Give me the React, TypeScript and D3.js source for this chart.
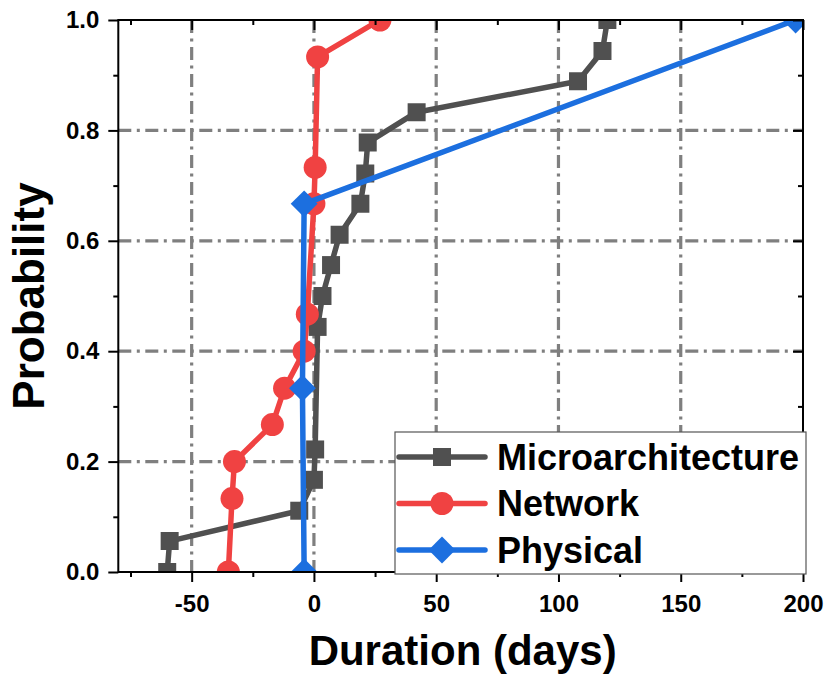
import React, { useEffect, useRef } from "react";
import {
  select,
  scaleLinear,
  line,
  axisBottom,
  axisLeft,
  axisTop,
  axisRight,
  format,
  symbol,
  symbolSquare,
} from "d3";

// CDF of durations
const microX = [-60, -59, -6, 0, 0.5, 1.5, 3.5, 7, 10.5, 19, 21, 22, 42, 108, 118, 120];
const microY = [0, 0.056, 0.111, 0.167, 0.222, 0.444, 0.5, 0.556, 0.611, 0.667, 0.722, 0.778, 0.833, 0.889, 0.944, 1.0];

const netX = [-35, -33.5, -32.5, -17, -12, -4, -2.7, 0, 0.5, 1.5, 27];
const netY = [0, 0.133, 0.2, 0.267, 0.333, 0.4, 0.467, 0.667, 0.733, 0.933, 1.0];

const physX = [-4, -4.7, -4, 197];
const physY = [0, 0.333, 0.667, 1.0];

const seriesNames = ["Microarchitecture", "Network", "Physical"];
const seriesColors = ["#505050", "#f04242", "#1c6fdf"];

const xTicks = [-50, 0, 50, 100, 150, 200];
const xMinorTicks = [-75, -25, 25, 75, 125, 175];
const yTicks = [0, 0.2, 0.4, 0.6, 0.8, 1.0];
const yMinorTicks = [0.1, 0.3, 0.5, 0.7, 0.9];
const xGrid = [-50, 0, 50, 100, 150];
const yGrid = [0.2, 0.4, 0.6, 0.8];

const FONT = "'Liberation Sans', Arial, Helvetica, sans-serif";

function drawMarker(g, kind, x, y, color) {
  if (kind === 0) {
    g.append("path")
      .attr("d", symbol(symbolSquare, 18 * 18)())
      .attr("transform", `translate(${x},${y})`)
      .attr("fill", color);
  } else if (kind === 1) {
    g.append("circle").attr("cx", x).attr("cy", y).attr("r", 11.5).attr("fill", color);
  } else {
    g.append("path")
      .attr("d", symbol(symbolSquare, 19 * 19)())
      .attr("transform", `translate(${x},${y}) rotate(45)`)
      .attr("fill", color);
  }
}

function CdfChart() {
  const svgRef = useRef();

  useEffect(() => {
    const svg = select(svgRef.current);
    svg.selectAll("*").remove();

    const left = 118.3;
    const right = 803;
    const top = 20;
    const bottom = 572;

    const xScale = scaleLinear().domain([-80, 200]).range([left, right]);
    const yScale = scaleLinear().domain([0, 1]).range([bottom, top]);

    svg
      .append("defs")
      .append("clipPath")
      .attr("id", "plot-clip")
      .append("rect")
      .attr("x", left)
      .attr("y", top)
      .attr("width", right - left)
      .attr("height", bottom - top);

    // grid
    const grid = svg.append("g").attr("stroke", "#7f7f7f").attr("stroke-width", 3.2).attr("stroke-dasharray", "13 5.5 3 5.5");
    xGrid.forEach((v) => {
      grid.append("line").attr("x1", xScale(v)).attr("x2", xScale(v)).attr("y1", top).attr("y2", bottom);
    });
    yGrid.forEach((v) => {
      grid.append("line").attr("x1", left).attr("x2", right).attr("y1", yScale(v)).attr("y2", yScale(v));
    });

    // series
    const allX = [microX, netX, physX];
    const allY = [microY, netY, physY];
    const plot = svg.append("g").attr("clip-path", "url(#plot-clip)");
    allX.forEach((xs, i) => {
      const pts = xs.map((x, j) => [x, allY[i][j]]);
      const lineGenerator = line()
        .x((d) => xScale(d[0]))
        .y((d) => yScale(d[1]));
      plot
        .append("path")
        .attr("d", lineGenerator(pts))
        .attr("fill", "none")
        .attr("stroke", seriesColors[i])
        .attr("stroke-width", 5.5)
        .attr("stroke-linejoin", "round");
      pts.forEach((d) => drawMarker(plot, i, xScale(d[0]), yScale(d[1]), seriesColors[i]));
    });

    // axes
    const styleAxis = (g) => {
      g.select(".domain").remove();
      g.selectAll("line").attr("stroke", "#000").attr("stroke-width", 2);
      g.selectAll("text")
        .attr("fill", "#000")
        .attr("font-family", FONT)
        .attr("font-weight", "bold")
        .attr("font-size", 24);
    };

    svg.append("g").attr("transform", `translate(0,${bottom})`)
      .call(axisBottom(xScale).tickValues(xTicks).tickSize(10).tickPadding(13).tickFormat((d) => String(d)))
      .call(styleAxis);
    svg.append("g").attr("transform", `translate(0,${bottom})`)
      .call(axisBottom(xScale).tickValues(xMinorTicks).tickSize(5).tickFormat(() => ""))
      .call(styleAxis);
    svg.append("g").attr("transform", `translate(${left},0)`)
      .call(axisLeft(yScale).tickValues(yTicks).tickSize(10).tickPadding(9).tickFormat(format(".1f")))
      .call(styleAxis);
    svg.append("g").attr("transform", `translate(${left},0)`)
      .call(axisLeft(yScale).tickValues(yMinorTicks).tickSize(5).tickFormat(() => ""))
      .call(styleAxis);
    svg.append("g").attr("transform", `translate(0,${top})`)
      .call(axisTop(xScale).tickValues(xTicks).tickSize(-10).tickFormat(() => ""))
      .call(styleAxis);
    svg.append("g").attr("transform", `translate(0,${top})`)
      .call(axisTop(xScale).tickValues(xMinorTicks).tickSize(-5).tickFormat(() => ""))
      .call(styleAxis);
    svg.append("g").attr("transform", `translate(${right},0)`)
      .call(axisRight(yScale).tickValues(yTicks).tickSize(-10).tickFormat(() => ""))
      .call(styleAxis);
    svg.append("g").attr("transform", `translate(${right},0)`)
      .call(axisRight(yScale).tickValues(yMinorTicks).tickSize(-5).tickFormat(() => ""))
      .call(styleAxis);

    svg.append("rect")
      .attr("x", left).attr("y", top)
      .attr("width", right - left).attr("height", bottom - top)
      .attr("fill", "none").attr("stroke", "#000").attr("stroke-width", 2);

    // axis titles
    svg.append("text")
      .attr("x", (left + right) / 2 + 2)
      .attr("y", 665)
      .attr("text-anchor", "middle")
      .attr("font-family", FONT).attr("font-weight", "bold").attr("font-size", 42)
      .text("Duration (days)");
    svg.append("text")
      .attr("transform", `translate(44,${(top + bottom) / 2}) rotate(-90)`)
      .attr("text-anchor", "middle")
      .attr("font-family", FONT).attr("font-weight", "bold").attr("font-size", 44)
      .text("Probability");

    // legend
    const legend = svg.append("g");
    legend.append("rect")
      .attr("x", 395).attr("y", 432).attr("width", 411).attr("height", 142)
      .attr("fill", "#fff").attr("stroke", "#555").attr("stroke-width", 1.2);
    seriesNames.forEach((name, i) => {
      const ly = 457 + i * 46.5;
      legend.append("line")
        .attr("x1", 399).attr("x2", 485).attr("y1", ly).attr("y2", ly)
        .attr("stroke", seriesColors[i]).attr("stroke-width", 5.5).attr("stroke-linecap", "round");
      drawMarker(legend, i, 442, ly, seriesColors[i]);
      legend.append("text")
        .attr("x", 497).attr("y", ly + 12.5)
        .attr("font-family", FONT).attr("font-weight", "bold").attr("font-size", 36)
        .attr("fill", "#000")
        .text(name);
    });
  }, []);

  return (
    <svg
      ref={svgRef}
      width={830}
      height={690}
      style={{ position: "absolute", left: 0, top: 0, background: "#fff" }}
    />
  );
}

export default function App() {
  return <CdfChart />;
}
